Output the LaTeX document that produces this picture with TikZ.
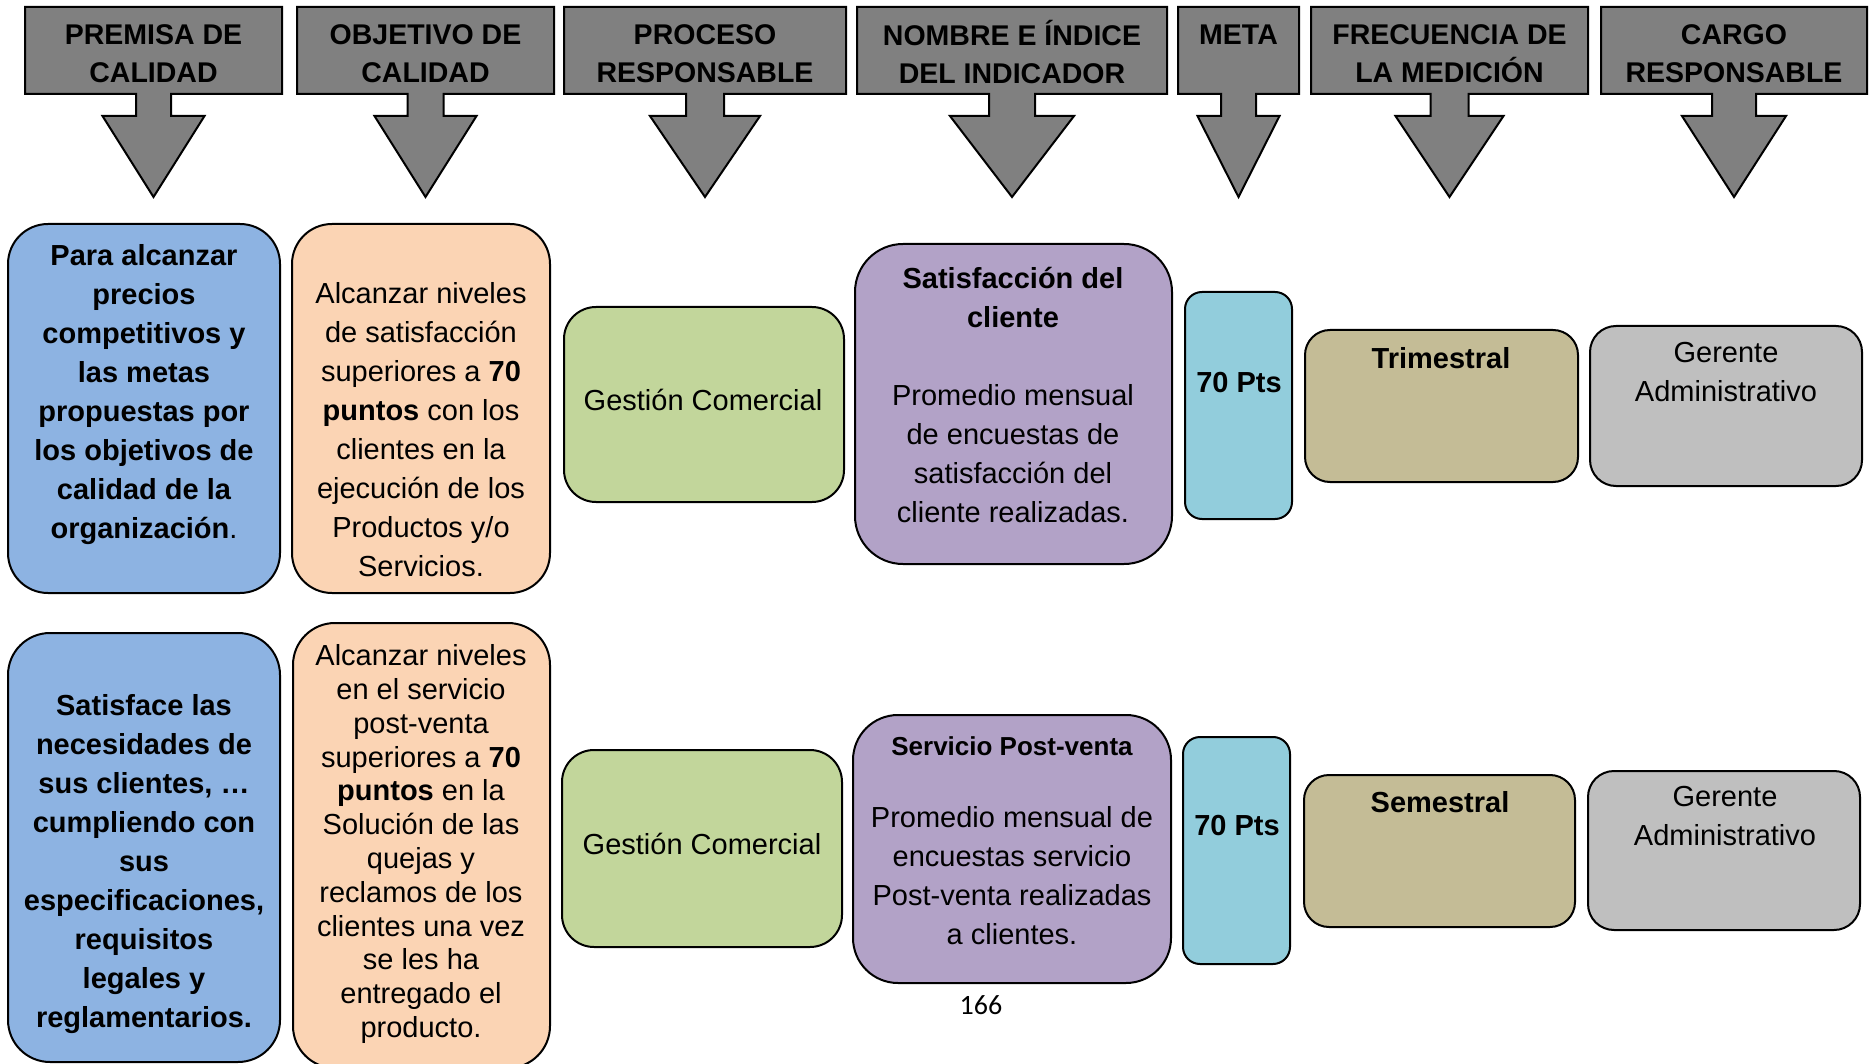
\documentclass[tikz,border=0pt]{standalone}
\usepackage{fontspec}
\setmainfont{Liberation Sans}
\newfontfamily\pagenumfont{Carlito}
\definecolor{headgray}{HTML}{808080}
\definecolor{premblue}{HTML}{8DB3E2}
\definecolor{objpeach}{HTML}{FBD4B4}
\definecolor{procgreen}{HTML}{C2D69B}
\definecolor{indpurple}{HTML}{B2A2C7}
\definecolor{metacyan}{HTML}{92CDDC}
\definecolor{freqtan}{HTML}{C4BC96}
\definecolor{cargogray}{HTML}{BFBFBF}
\begin{document}
\begin{tikzpicture}[x=1pt, y=-1pt, line width=2pt,
	header/.style={fill=headgray, draw=black, line join=miter},
	headtext/.style={font=\fontsize{28.5}{38}\selectfont\bfseries, align=center, inner sep=0pt},
	card/.style={draw=black, inner sep=0pt},
	cardtext/.style={font=\fontsize{29}{39}\selectfont, align=center, inner sep=0pt},
	cardbold/.style={cardtext, font=\fontsize{29}{39}\selectfont\bfseries}]
	\useasboundingbox (0,0) rectangle (1871,1064);
	\clip (0,0) rectangle (1871,1064);
	% column headers with their down arrows
	\foreach \l/\r/\s/\h/\yc/\name/\txt in {
		25/282/17.5/51/54/hPremisa/{PREMISA DE\\CALIDAD},
		297/554/18/51/54/hObjetivo/{OBJETIVO DE\\CALIDAD},
		564/846/19/55/54/hProceso/{PROCESO\\RESPONSABLE},
		857/1167/23/62/52/hIndicador/{NOMBRE E ÍNDICE\\DEL INDICADOR},
		1178/1299/17.5/41/35/hMeta/{META},
		1311/1588/19/54/54/hFrecuencia/{FRECUENCIA DE\\LA MEDICIÓN},
		1601/1867/22/52/54/hCargo/{CARGO\\RESPONSABLE}} {
		\pgfmathsetmacro\c{(\l+\r)/2}
		\draw[header] (\l,7) -- (\r,7) -- (\r,94) -- (\c+\s,94) -- (\c+\s,116) -- (\c+\h,116)
			-- (\c,197) -- (\c-\h,116) -- (\c-\s,116) -- (\c-\s,94) -- (\l,94) -- cycle;
		\node[headtext] (\name) at (\c,\yc) {\txt};
	}
	% first row
	\node[card, fill=premblue, minimum width=272pt, minimum height=369pt, rounded corners=40pt] (premisaA) at (144,408.5) {};
	\node[cardbold] (premisaAText) at (144,394.5) {Para alcanzar\\precios\\competitivos y\\las metas\\propuestas por\\los objetivos de\\calidad de la\\organización\textmd{.}};
	\node[card, fill=objpeach, minimum width=258pt, minimum height=369pt, rounded corners=40pt] (objetivoA) at (421,408.5) {};
	\node[cardtext] (objetivoAText) at (421,429.5) {Alcanzar niveles\\de satisfacción\\superiores a \textbf{70}\\\textbf{puntos} con los\\clientes en la\\ejecución de los\\Productos y/o\\Servicios.};
	\node[card, fill=procgreen, minimum width=280pt, minimum height=195pt, rounded corners=32pt] (procesoA) at (704,404.5) {};
	\node[cardtext] (procesoAText) at (703,400) {Gestión Comercial};
	\node[card, fill=indpurple, minimum width=317pt, minimum height=320pt, rounded corners=48pt] (indicadorA) at (1013.5,404) {};
	\node[cardtext] (indicadorAText) at (1013,395) {\textbf{Satisfacción del}\\\textbf{cliente}\\[39pt]Promedio mensual\\de encuestas de\\satisfacción del\\cliente realizadas.};
	\node[card, fill=metacyan, minimum width=107pt, minimum height=227pt, rounded corners=17pt] (metaA) at (1238.5,405.5) {};
	\node[cardbold] (metaAText) at (1239,383) {70 Pts};
	\node[card, fill=freqtan, minimum width=273pt, minimum height=152pt, rounded corners=25pt] (frecuenciaA) at (1441.5,406) {};
	\node[cardbold] (frecuenciaAText) at (1441,358) {Trimestral};
	\node[card, fill=cargogray, minimum width=272pt, minimum height=160pt, rounded corners=26pt] (cargoA) at (1726,406) {};
	\node[cardtext] (cargoAText) at (1726,372.5) {Gerente\\Administrativo};
	% second row
	\node[card, fill=premblue, minimum width=272pt, minimum height=429pt, rounded corners=42pt] (premisaB) at (144,847.5) {};
	\node[cardbold] (premisaBText) at (144,864) {Satisface las\\necesidades de\\sus clientes, …\\cumpliendo con\\sus\\especificaciones,\\requisitos\\legales y\\reglamentarios.};
	\node[card, fill=objpeach, minimum width=257pt, minimum height=445pt, rounded corners=42pt] (objetivoB) at (421.5,845.5) {};
	\node[cardtext, font=\fontsize{29}{33.8}\selectfont] (objetivoBText) at (421,844) {Alcanzar niveles\\en el servicio\\post-venta\\superiores a \textbf{70}\\\textbf{puntos} en la\\Solución de las\\quejas y\\reclamos de los\\clientes una vez\\se les ha\\entregado el\\producto.};
	\node[card, fill=procgreen, minimum width=280pt, minimum height=197pt, rounded corners=32pt] (procesoB) at (702,848.5) {};
	\node[cardtext] (procesoBText) at (702,844) {Gestión Comercial};
	\node[card, fill=indpurple, minimum width=318pt, minimum height=268pt, rounded corners=45pt] (indicadorB) at (1012,849) {};
	\node[cardtext] (indicadorBText) at (1012,840.5) {{\fontsize{26}{30}\selectfont\bfseries Servicio Post-venta}\\[33pt]Promedio mensual de\\encuestas servicio\\Post-venta realizadas\\a clientes.};
	\node[card, fill=metacyan, minimum width=107pt, minimum height=227pt, rounded corners=17pt] (metaB) at (1236.5,850.5) {};
	\node[cardbold] (metaBText) at (1237,826) {70 Pts};
	\node[card, fill=freqtan, minimum width=271pt, minimum height=152pt, rounded corners=25pt] (frecuenciaB) at (1439.5,851) {};
	\node[cardbold] (frecuenciaBText) at (1440,802) {Semestral};
	\node[card, fill=cargogray, minimum width=272pt, minimum height=159pt, rounded corners=26pt] (cargoB) at (1724,850.5) {};
	\node[cardtext] (cargoBText) at (1725,816) {Gerente\\Administrativo};
	\node[font=\pagenumfont\fontsize{28}{32}\selectfont, inner sep=0pt] (pageNum) at (981,1005) {166};
\end{tikzpicture}
\end{document}
